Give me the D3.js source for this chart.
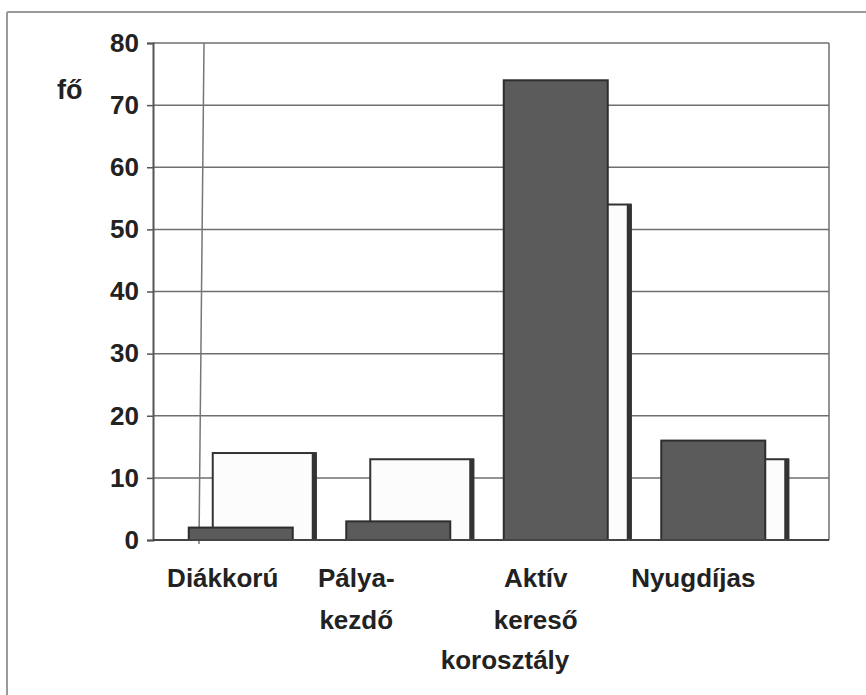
<!DOCTYPE html>
<html>
<head>
<meta charset="utf-8">
<script src="https://cdn.jsdelivr.net/npm/d3@7/dist/d3.min.js"></script>
<style>
  body { margin: 0; background: #fff; }
  svg { display: block; }
  text { font-family: "Liberation Sans", Arial, sans-serif; font-weight: bold; fill: #222; }
</style>
</head>
<body>
<svg id="chart" width="866" height="695"></svg>
<script>
const categories = ["Diákkorú", "Pálya-\nkezdő", "Aktív\nkereső", "Nyugdíjas"];
const darkValues = [2, 3, 74, 16];
const lightValues = [14, 13, 54, 13];
const yTicks = [0, 10, 20, 30, 40, 50, 60, 70, 80];
const yLabel = "fő";
const xLabel = "korosztály";

const svg = d3.select("#chart");
const plot = { left: 153, right: 829, top: 43, bottom: 540 };
// small per-label nudges reproducing the scanned label placement
const labelNudge = [-6, -30, -8, -8];

const x = d3.scaleBand().domain(categories).range([150, 780]);
const y = d3.scaleLinear().domain([0, 80]).range([plot.bottom, plot.top]);

// outer page frame
svg.append("line").attr("x1", 7).attr("x2", 866).attr("y1", 12).attr("y2", 12)
  .attr("stroke", "#9a9a9a").attr("stroke-width", 2);
svg.append("line").attr("x1", 7).attr("x2", 7).attr("y1", 12).attr("y2", 695)
  .attr("stroke", "#9a9a9a").attr("stroke-width", 2);

// gridlines
svg.append("g").selectAll("line").data(yTicks).join("line")
  .attr("x1", plot.left).attr("x2", plot.right)
  .attr("y1", d => y(d)).attr("y2", d => y(d))
  .attr("stroke", "#6f6f6f").attr("stroke-width", 1.5);

// right border of plot
svg.append("line").attr("x1", plot.right).attr("x2", plot.right)
  .attr("y1", plot.top).attr("y2", plot.bottom)
  .attr("stroke", "#6f6f6f").attr("stroke-width", 1.5);

// stray vertical line visible in the scan
svg.append("line").attr("x1", 204).attr("x2", 199)
  .attr("y1", plot.top).attr("y2", plot.bottom + 4)
  .attr("stroke", "#777").attr("stroke-width", 1.5);

// y axis
const yAxis = d3.axisLeft(y).tickValues(yTicks).tickSize(6).tickPadding(8);
const ga = svg.append("g").attr("transform", `translate(${plot.left},0)`).call(yAxis);
ga.select(".domain").attr("stroke", "#555").attr("stroke-width", 2);
ga.selectAll(".tick line").attr("stroke", "#555").attr("stroke-width", 1.5);
ga.selectAll(".tick text").style("font-size", "26px").style("font-weight", "bold")
  .style("font-family", "'Liberation Sans', Arial, sans-serif").attr("fill", "#222");

// light bars (behind)
const lightG = svg.append("g");
categories.forEach((c, i) => {
  const x0 = x(c) + x.bandwidth() / 2 - 16;
  const w = 103;
  const top = y(lightValues[i]);
  lightG.append("rect").attr("x", x0).attr("y", top).attr("width", w).attr("height", plot.bottom - top)
    .attr("fill", "#fcfcfc").attr("stroke", "#333").attr("stroke-width", 2);
  lightG.append("rect").attr("x", x0 + w - 4).attr("y", top).attr("width", 5).attr("height", plot.bottom - top)
    .attr("fill", "#333");
});

// dark bars (front)
const darkG = svg.append("g");
categories.forEach((c, i) => {
  const x0 = x(c) + x.bandwidth() / 2 - 40;
  const w = 104;
  const top = y(darkValues[i]);
  darkG.append("rect").attr("x", x0).attr("y", top).attr("width", w).attr("height", plot.bottom - top)
    .attr("fill", "#5b5b5b").attr("stroke", "#2e2e2e").attr("stroke-width", 2);
});

// x axis baseline
svg.append("line").attr("x1", plot.left).attr("x2", plot.right)
  .attr("y1", plot.bottom).attr("y2", plot.bottom)
  .attr("stroke", "#444").attr("stroke-width", 2);

// category labels
categories.forEach((c, i) => {
  const cx = x(c) + x.bandwidth() / 2 + labelNudge[i];
  const lines = c.split("\n");
  const t = svg.append("text").attr("text-anchor", "middle").style("font-size", "26px");
  lines.forEach((ln, k) => {
    t.append("tspan").attr("x", cx).attr("y", 587 + k * 42).text(ln);
  });
});

// axis titles
svg.append("text").attr("x", 505).attr("y", 669).attr("text-anchor", "middle")
  .style("font-size", "26px").text(xLabel);
svg.append("text").attr("x", 57).attr("y", 99)
  .style("font-size", "27px").text(yLabel);
</script>
</body>
</html>
